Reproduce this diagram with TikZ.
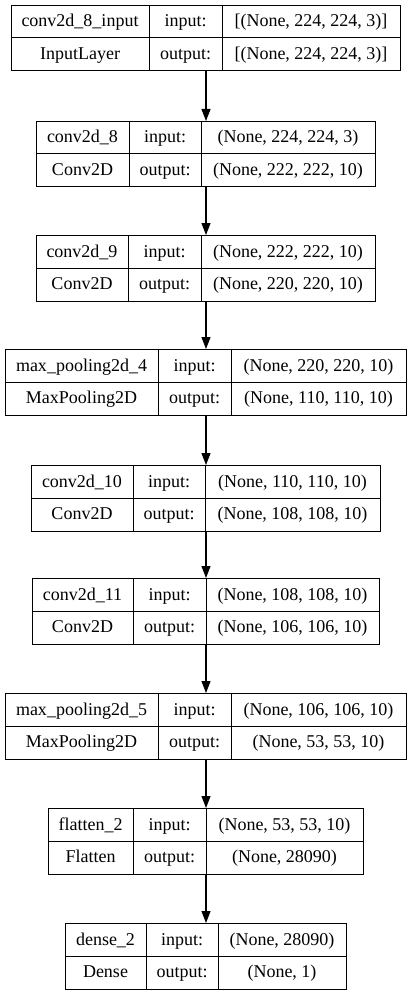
\documentclass[tikz,border=0pt]{standalone}
\usepackage{fontspec}
\setmainfont{Liberation Serif}
\usetikzlibrary{arrows.meta}
\tikzset{>={Triangle[length=12pt,width=9pt]}}

\begin{document}
\begin{tikzpicture}[x=1pt,y=1pt,
    cell/.style={font=\fontsize{18}{20}\selectfont,inner sep=0,text height=13pt,text depth=2pt},
    layerbox/.style={draw,line width=1,inner sep=0,anchor=north west},
    grid/.style={line width=1},
    flow/.style={->,line width=1.1},
  ]
  
  \def\H{65.5} % box height
  \def\h{33}   % upper row
  \useasboundingbox (0,0) rectangle (411,-995);
  
  % LAYERS
  \foreach \n/\y/\xa/\xb/\xc/\xd/\lname/\ltype/\lin/\lout in {
      1/5/11/149/222/400/{conv2d\_8\_input}/InputLayer/{[(None, 224, 224, 3)]}/{[(None, 224, 224, 3)]},
      2/121/36/129/201/375/{conv2d\_8}/Conv2D/{(None, 224, 224, 3)}/{(None, 222, 222, 10)},
      3/235/36/128/201/375/{conv2d\_9}/Conv2D/{(None, 222, 222, 10)}/{(None, 220, 220, 10)},
      4/349/5/158/231/406/{max\_pooling2d\_4}/MaxPooling2D/{(None, 220, 220, 10)}/{(None, 110, 110, 10)},
      5/465/31/133/205/380/{conv2d\_10}/Conv2D/{(None, 110, 110, 10)}/{(None, 108, 108, 10)},
      6/578/32/133/206/379/{conv2d\_11}/Conv2D/{(None, 108, 108, 10)}/{(None, 106, 106, 10)},
      7/693/5/158/231/406/{max\_pooling2d\_5}/MaxPooling2D/{(None, 106, 106, 10)}/{(None, 53, 53, 10)},
      8/808/48/133/206/363/{flatten\_2}/Flatten/{(None, 53, 53, 10)}/{(None, 28090)},
      9/923/65/146/218/346/{dense\_2}/Dense/{(None, 28090)}/{(None, 1)}%
    }{
    \node[layerbox,minimum width={(\xd-\xa)*1pt},minimum height={\H*1pt}] (L\n) at (\xa,-\y) {};
    \draw[grid] (\xa,-\y-\h) -- (\xd,-\y-\h)
      (\xb,-\y) -- (\xb,-\y-\H)
      (\xc,-\y) -- (\xc,-\y-\H);
    \node[cell] (L\n-name) at ({(\xa+\xb)/2},{-\y-\h/2}) {\lname};
    \node[cell] (L\n-type) at ({(\xa+\xb)/2},{-\y-(\h+\H)/2}) {\ltype};
    \node[cell] (L\n-inl) at ({(\xb+\xc)/2},{-\y-\h/2}) {input:};
    \node[cell] (L\n-outl) at ({(\xb+\xc)/2},{-\y-(\h+\H)/2}) {output:};
    \node[cell] (L\n-in) at ({(\xc+\xd)/2},{-\y-\h/2}) {\lin};
    \node[cell] (L\n-out) at ({(\xc+\xd)/2},{-\y-(\h+\H)/2}) {\lout};
  }
  
  % ARROWS
  \foreach \i [evaluate={\j=int(\i+1);}] in {1,...,8}{
    \draw[flow] (L\i.south) -- (L\j.north);
  }
  
\end{tikzpicture}
\end{document}
